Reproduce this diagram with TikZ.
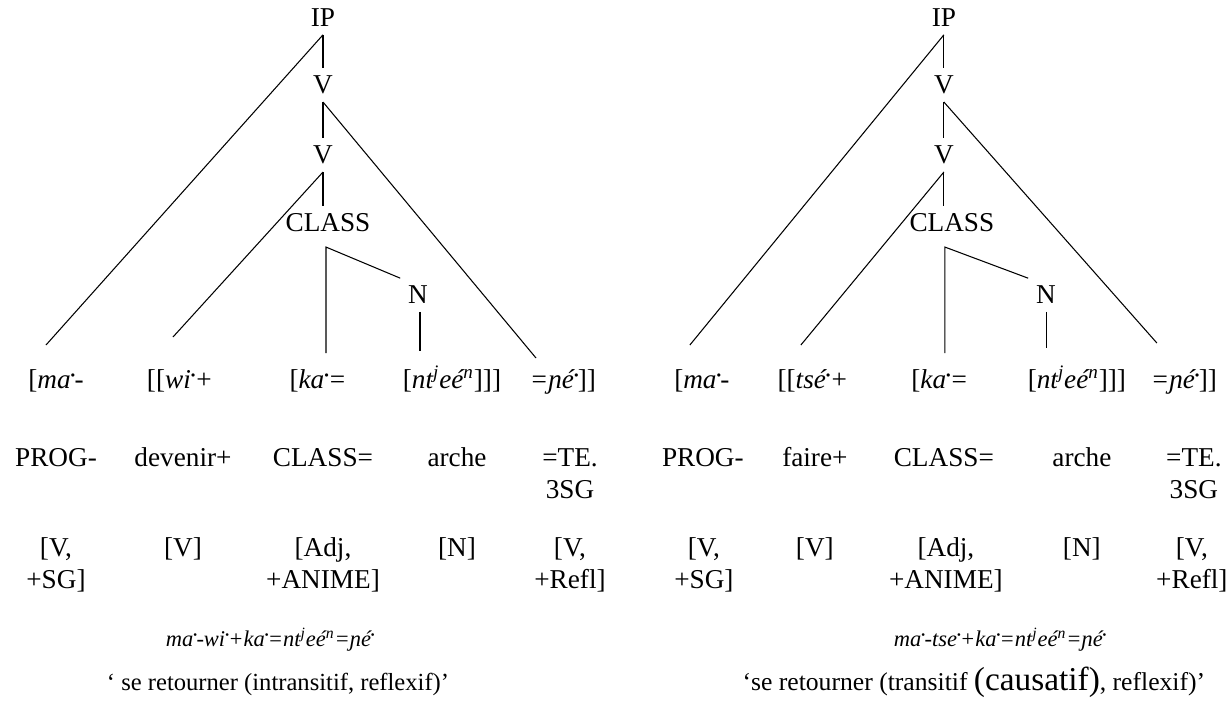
\documentclass[tikz,border=0pt]{standalone}
\usepackage{fontspec}
\setmainfont{Liberation Serif}
\usepackage{tikz}
\usetikzlibrary{positioning, calc}
\newcommand{\hd}{\makebox[.14em]{\raisebox{.3ex}{·}}}
\newcommand{\ntj}{nt\textsuperscript{j}eé\textsuperscript{n}}

\begin{document}
\begin{tikzpicture}[x=0.02cm, y=-0.02cm, line width=0.6pt,
  every node/.style={font=\fontsize{15.5}{18.1}\selectfont},
  cat/.style={inner sep=0pt, outer sep=4.5pt},
  word/.style={anchor=base, align=center, inner sep=0pt},
  form/.style={anchor=base, inner sep=0pt, font=\fontsize{12.8}{18.1}\selectfont},
  gloss/.style={anchor=base, inner sep=0pt, font=\fontsize{14}{18.1}\selectfont}]
\useasboundingbox (0,0) rectangle (1231,717);

% ---------------- LEFT: intransitif ----------------
\begin{scope}
% Tree
\node[cat] (ipL) at (323,18) {IP};
\node[cat] (v1L) at (323,85) {V};
\node[cat] (v2L) at (323,155) {V};
\node[cat] (clL) at (328,223) {CLASS};
\node[cat] (nL) at (418,295) {N};
\coordinate (ftL1) at (46,345);
\coordinate (ftL2) at (173,337);
\coordinate (ftL3) at (326,353);
\coordinate (ftL4) at (420,351);
\coordinate (ftL5) at (536,358);
\draw (ipL.south) -- (v1L.north);
\draw (ipL.south) -- (ftL1);
\draw (v1L.south) -- (v2L.north);
\draw (v1L.south) -- (ftL5);
\draw (v2L.south) -- (clL.north -| v2L.south);
\draw (v2L.south) -- (ftL2);
\draw (ftL3) -- ([yshift=-0.14cm]clL.south -| ftL3) -- (nL.north west);
\draw (nL.south -| ftL4) -- (ftL4);
% Morphemes
\node[word] (m1L) at (56,388) {[\textit{ma\hd-}};
\node[word] (m2L) at (180,388) {[[\textit{wi\hd+}};
\node[word] (m3L) at (318,388) {[\textit{ka\hd=}};
\node[word] (m4L) at (452,388) {[\textit{\ntj}]]]};
\node[word] (m5L) at (563,388) {\textit{=ɲé\hd}]]};
% Glosses
\node[word] (g1L) at (56,466) {PROG-};
\node[word] (g2L) at (183,466) {devenir+};
\node[word] (g3L) at (323,466) {CLASS=};
\node[word] (g4L) at (457,466) {arche};
\node[word] (g5L) at (570,498) {=TE.\\3SG};
% Features
\node[word] (f1L) at (56,588) {[V,\\+SG]};
\node[word] (f2L) at (183,556) {[V]};
\node[word] (f3L) at (323,588) {[Adj,\\+ANIME]};
\node[word] (f4L) at (457,556) {[N]};
\node[word] (f5L) at (570,588) {[V,\\+Refl]};
% Form and meaning
\node[form] (fmL) at (270,646) {\textit{ma\hd-wi\hd+ka\hd=\ntj=ɲé\hd}};
\node[gloss] (trL) at (278,690) {‘ se retourner (intransitif, reflexif)’};
\end{scope}

% ---------------- RIGHT: transitif ----------------
\begin{scope}[xshift=12.4cm]
% Tree
\node[cat] (ipR) at (324,18) {IP};
\node[cat] (v1R) at (324,85) {V};
\node[cat] (v2R) at (324,155) {V};
\node[cat] (clR) at (332,223) {CLASS};
\node[cat] (nR) at (426,295) {N};
\coordinate (ftR1) at (70,345);
\coordinate (ftR2) at (181,345);
\coordinate (ftR3) at (325,353);
\coordinate (ftR4) at (427,348);
\coordinate (ftR5) at (537,343);
\draw (ipR.south) -- (v1R.north);
\draw (ipR.south) -- (ftR1);
\draw (v1R.south) -- (v2R.north);
\draw (v1R.south) -- (ftR5);
\draw (v2R.south) -- (clR.north -| v2R.south);
\draw (v2R.south) -- (ftR2);
\draw (ftR3) -- ([yshift=-0.14cm]clR.south -| ftR3) -- (nR.north west);
\draw (nR.south -| ftR4) -- (ftR4);
% Morphemes
\node[word] (m1R) at (82,388) {[\textit{ma\hd-}};
\node[word] (m2R) at (193,388) {[[\textit{tsé\hd+}};
\node[word] (m3R) at (320,388) {[\textit{ka\hd=}};
\node[word] (m4R) at (457,388) {[\textit{\ntj}]]]};
\node[word] (m5R) at (564,388) {\textit{=ɲé\hd}]]};
% Glosses
\node[word] (g1R) at (83,466) {PROG-};
\node[word] (g2R) at (195,466) {faire+};
\node[word] (g3R) at (324,466) {CLASS=};
\node[word] (g4R) at (462,466) {arche};
\node[word] (g5R) at (574,498) {=TE.\\3SG};
% Features
\node[word] (f1R) at (84,588) {[V,\\+SG]};
\node[word] (f2R) at (195,556) {[V]};
\node[word] (f3R) at (326,588) {[Adj,\\+ANIME]};
\node[word] (f4R) at (462,556) {[N]};
\node[word] (f5R) at (572,588) {[V,\\+Refl]};
% Form and meaning
\node[form] (fmR) at (380,646) {\textit{ma\hd-tse\hd+ka\hd=\ntj=ɲé\hd}};
\node[gloss, font=\fontsize{14.6}{18.1}\selectfont] (trR) at (354,690) {‘se retourner (transitif \scalebox{1.3}{(causatif)}, reflexif)’};
\end{scope}
\end{tikzpicture}
\end{document}
